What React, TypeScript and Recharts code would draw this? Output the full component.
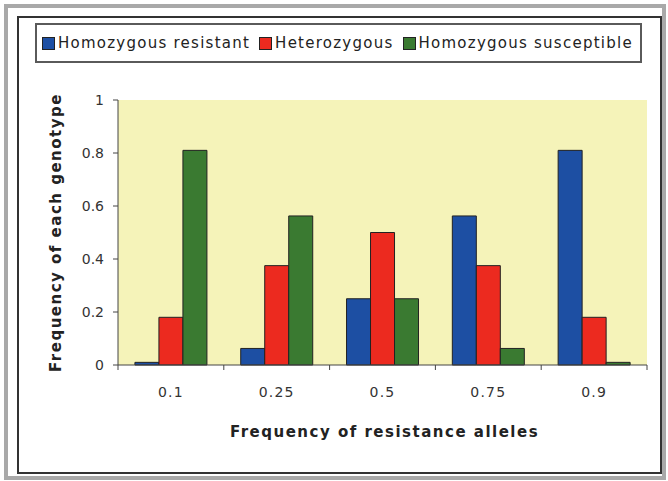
import { Bar, BarChart, CartesianGrid, Label, XAxis, YAxis } from 'recharts';

const alleleFreqs = ['0.1', '0.25', '0.5', '0.75', '0.9'];
const homResistant = [0.01, 0.0625, 0.25, 0.5625, 0.81];
const heterozygous = [0.18, 0.375, 0.5, 0.375, 0.18];
const homSusceptible = [0.81, 0.5625, 0.25, 0.0625, 0.01];
const yTicks = [0, 0.2, 0.4, 0.6, 0.8, 1];

const series = [
  { key: 'rr', name: 'Homozygous resistant', color: '#1d4fa3' },
  { key: 'rs', name: 'Heterozygous', color: '#ec2a1f' },
  { key: 'ss', name: 'Homozygous susceptible', color: '#3a7a31' },
];

const data = alleleFreqs.map((p, i) => ({
  p,
  rr: homResistant[i],
  rs: heterozygous[i],
  ss: homSusceptible[i],
}));

const W = 668;
const H = 481;
const MARGIN = { top: 100, right: 21, bottom: 86, left: 58 };
const Y_AXIS_W = 60;
const BAND = (W - MARGIN.left - MARGIN.right - Y_AXIS_W) / alleleFreqs.length;

const XTick = (props: any) => {
  const { x, y, payload, index } = props;
  const axisY = y - 7;
  return (
    <g>
      <line x1={x - BAND / 2} x2={x - BAND / 2} y1={axisY} y2={axisY + 5} stroke="#444" />
      {index === alleleFreqs.length - 1 && (
        <line x1={x + BAND / 2} x2={x + BAND / 2} y1={axisY} y2={axisY + 5} stroke="#444" />
      )}
      <text x={x} y={y + 25} textAnchor="middle" fill="#333" fontSize={14} style={{ letterSpacing: 1.2 }}>
        {payload.value}
      </text>
    </g>
  );
};

const titleStyle = { fontSize: 15, fontWeight: 'bold' as const, fill: '#222', letterSpacing: 1.5 };

const Legend = () => (
  <div
    style={{
      position: 'absolute',
      left: 35,
      top: 23,
      width: 607,
      height: 40,
      boxSizing: 'border-box',
      border: '2px solid #5a5a5a',
      display: 'flex',
      alignItems: 'center',
      paddingLeft: 5,
      fontSize: 15,
      letterSpacing: 1.25,
      color: '#222',
      whiteSpace: 'nowrap',
    }}
  >
    {series.map((s) => (
      <span key={s.key} style={{ display: 'flex', alignItems: 'center', marginRight: 9, flexShrink: 0 }}>
        <span
          style={{
            width: 11,
            height: 11,
            background: s.color,
            border: '1px solid #222',
            marginRight: 3,
            display: 'inline-block',
            flexShrink: 0,
          }}
        />
        {s.name}
      </span>
    ))}
  </div>
);

export default function App() {
  return (
    <div
      style={{
        position: 'absolute',
        left: 0,
        top: 0,
        width: W,
        height: H,
        background: '#fff',
        fontFamily: '"DejaVu Sans", sans-serif',
      }}
    >
      <div
        style={{
          position: 'absolute',
          left: 4,
          top: 4,
          width: 662,
          height: 476,
          boxSizing: 'border-box',
          border: '4px solid #a9a9a9',
        }}
      />
      <div
        style={{
          position: 'absolute',
          left: 17,
          top: 16,
          width: 645,
          height: 458,
          boxSizing: 'border-box',
          border: '2px solid #333',
        }}
      />
      <Legend />
      <div style={{ position: 'absolute', left: 0, top: 0 }}>
        <BarChart width={W} height={H} data={data} margin={MARGIN} barCategoryGap="16%" barGap={0}>
          <CartesianGrid fill="#f5f3b9" stroke="none" horizontal={false} vertical={false} />
          <XAxis
            dataKey="p"
            stroke="#444"
            tickLine={false}
            tickSize={5}
            tickMargin={2}
            tick={<XTick />}
            interval={0}
          >
            <Label
              content={({ viewBox }: any) => (
                <text
                  x={viewBox.x + viewBox.width / 2 + 2}
                  y={viewBox.y + 72}
                  textAnchor="middle"
                  style={titleStyle}
                >
                  Frequency of resistance alleles
                </text>
              )}
            />
          </XAxis>
          <YAxis
            width={Y_AXIS_W}
            domain={[0, 1]}
            ticks={yTicks}
            stroke="#444"
            tickSize={5}
            tickMargin={9}
            tick={{ fill: '#333', fontSize: 14 }}
          >
            <Label
              content={({ viewBox }: any) => {
                const cx = viewBox.x + 3;
                const cy = viewBox.y + viewBox.height / 2;
                return (
                  <text
                    x={cx}
                    y={cy}
                    transform={`rotate(-90 ${cx} ${cy})`}
                    textAnchor="middle"
                    style={titleStyle}
                  >
                    Frequency of each genotype
                  </text>
                );
              }}
            />
          </YAxis>
          {series.map((s) => (
            <Bar
              key={s.key}
              dataKey={s.key}
              name={s.name}
              fill={s.color}
              stroke="#222"
              strokeWidth={1}
              isAnimationActive={false}
            />
          ))}
        </BarChart>
      </div>
    </div>
  );
}
